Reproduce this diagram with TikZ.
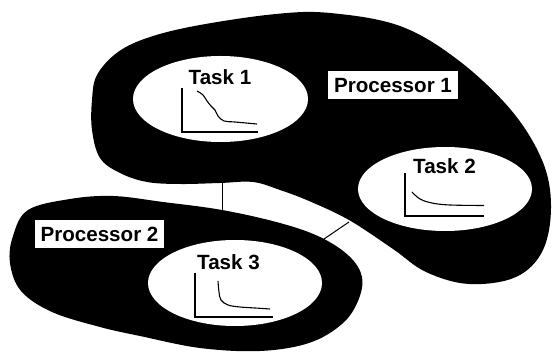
\documentclass[tikz,border=0pt]{standalone}
\usepackage{fontspec}
\setmainfont{Liberation Sans}
\usetikzlibrary{shapes.geometric}
\begin{document}
\begin{tikzpicture}[x=1pt,y=-1pt,
  blob/.style={fill=black,draw=none},
  taskell/.style={ellipse,fill=white,draw=none,inner sep=0pt},
  tasklbl/.style={anchor=base,inner sep=0pt,font=\fontsize{20.6}{24}\selectfont\bfseries},
  proclbl/.style={fill=white,draw=none,inner xsep=6pt,inner ysep=6.5pt,text height=15pt,text depth=0pt,font=\fontsize{20.6}{24}\selectfont\bfseries},
  axisline/.style={line width=1.3pt},
  curveline/.style={line width=1.1pt},
  link/.style={line width=1pt}]
\useasboundingbox (0,0) rectangle (552,352);
% Processor 1 blob
\fill[blob] plot[smooth cycle,tension=0.6] coordinates {
  (97,75) (118,52) (150,37) (200,25) (276,14) (330,13) (400,26) (458,60) (511,110)
  (542,160) (551,205) (543,250) (516,277) (469,284) (426,272) (393,249)
  (349,220) (309,201) (280,190) (253,182) (220,183) (180,184) (147,182)
  (120,173) (100,158) (92,130) (92,100)};
% Processor 2 blob
\fill[blob] plot[smooth cycle,tension=0.6] coordinates {
  (28,210) (70,199) (113,196) (163,202) (222,210) (280,223) (320,237)
  (349,256) (362,277) (358,301) (342,324) (309,343) (260,351) (200,348)
  (140,336) (100,327) (52,312) (21,291) (10,263) (13,236)};
% tasks
\node[taskell,minimum width=175pt,minimum height=86pt] (t1) at (220.5,99) {};
\node[taskell,minimum width=174pt,minimum height=84pt] (t2) at (445,189) {};
\node[taskell,minimum width=174pt,minimum height=86pt] (t3) at (235,283) {};
\node[tasklbl] (l1) at (220,85) {Task 1};
\node[tasklbl] (l2) at (444.5,174) {Task 2};
\node[tasklbl] (l3) at (228.5,269.5) {Task 3};
% processor labels
\node[proclbl] (p1) at (393,85) {Processor 1};
\node[proclbl] (p2) at (99.5,234.5) {Processor 2};
% graphs
\draw[axisline] (182,88) -- (182,132) -- (258,132);
\draw[curveline] plot[smooth,tension=0.6] coordinates {(197,91) (203,95) (207,101) (211,106) (215,110) (218,116) (224,121) (235,122) (257,124)};
\draw[axisline] (405,173) -- (405,216) -- (484,216);
\draw[curveline] plot[smooth,tension=0.6] coordinates {(412,192) (420,199) (432,203) (450,205) (484,205.5)};
\draw[axisline] (195,273) -- (195,317) -- (273,317);
\draw[curveline] plot[smooth,tension=0.6] coordinates {(218,281) (219,292) (221,300) (228,305) (240,307) (255,308) (270,309)};
% links between processors
\coordinate (a1) at (222,183);
\coordinate (a2) at (222,210);
\coordinate (b1) at (349,222);
\coordinate (b2) at (324,239);
\draw[link] (a1) -- (a2);
\draw[link] (b1) -- (b2);
\end{tikzpicture}
\end{document}
